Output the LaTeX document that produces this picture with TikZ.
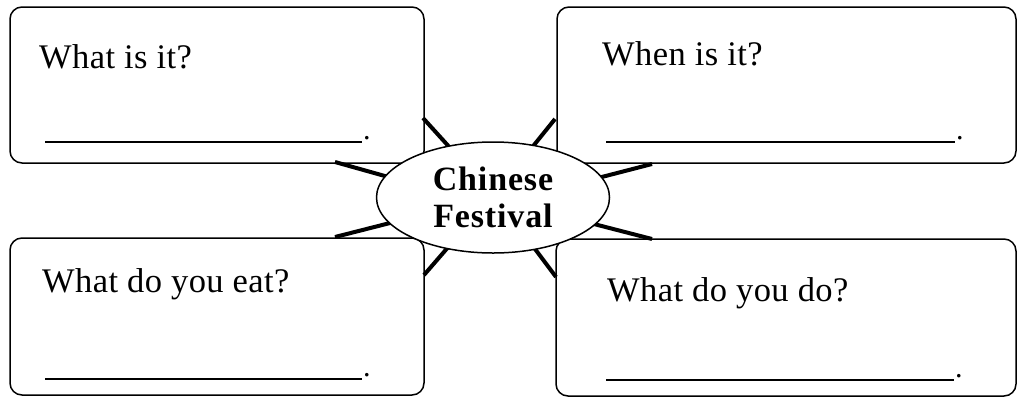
\documentclass[tikz,border=0pt]{standalone}
\usepackage{fontspec}
\setmainfont{Liberation Serif}
\usetikzlibrary{shapes.geometric}
\tikzset{
  qbox/.style={draw, line width=1.5pt, rounded corners=12pt, inner sep=0pt},
  qtext/.style={anchor=base west, inner sep=0pt, font=\fontsize{34.5}{40}\selectfont\addfontfeatures{LetterSpace=1.2}},
  ray/.style={line width=4pt},
  blank/.style={line width=1.2pt},
  dot/.style={anchor=base west, inner sep=0pt, font=\fontsize{30}{36}\selectfont}
}
\begin{document}
\begin{tikzpicture}[x=1pt,y=-1pt]
\useasboundingbox (0,0) rectangle (1027,402);
% boxes
\node[qbox, minimum width=414pt, minimum height=156pt] (b1) at (217,85) {};
\node[qbox, minimum width=459pt, minimum height=156pt] (b2) at (786.5,85) {};
\node[qbox, minimum width=414pt, minimum height=157pt] (b3) at (217,316.5) {};
\node[qbox, minimum width=460pt, minimum height=157pt] (b4) at (786,317.5) {};
% texts
\node[qtext] (t1) at (39,68) {What is it?};
\node[qtext] (t2) at (602,65) {When is it?};
\node[qtext] (t3) at (42,292) {What do you eat?};
\node[qtext] (t4) at (607,301) {What do you do?};
% blanks
\coordinate (l1a) at (45,142); \coordinate (l1b) at (362,142);
\coordinate (l2a) at (606,142); \coordinate (l2b) at (955,142);
\coordinate (l3a) at (45,379); \coordinate (l3b) at (362,379);
\coordinate (l4a) at (606,380); \coordinate (l4b) at (954,380);
\draw[blank] (l1a) -- (l1b); \node[dot] (d1) at (363,139) {.};
\draw[blank] (l2a) -- (l2b); \node[dot] (d2) at (956,139) {.};
\draw[blank] (l3a) -- (l3b); \node[dot] (d3) at (363,376) {.};
\draw[blank] (l4a) -- (l4b); \node[dot] (d4) at (955,377) {.};
% rays
\draw[ray] (423,118) -- (452,150);
\draw[ray] (555,119) -- (530,150);
\draw[ray] (335,162) -- (392,178);
\draw[ray] (335,237) -- (394,222);
\draw[ray] (652,164) -- (594,179);
\draw[ray] (652,239) -- (590,223);
\draw[ray] (424,275) -- (450,245);
\draw[ray] (556,277) -- (532,245);
% centre
\node[ellipse, draw, line width=1.5pt, fill=white, minimum width=233pt, minimum height=111pt, inner sep=0pt, align=center,
  font=\fontsize{34}{37}\selectfont\bfseries\addfontfeatures{LetterSpace=2.5}] (c) at (493,197.5) {Chinese\\Festival};
\end{tikzpicture}
\end{document}
